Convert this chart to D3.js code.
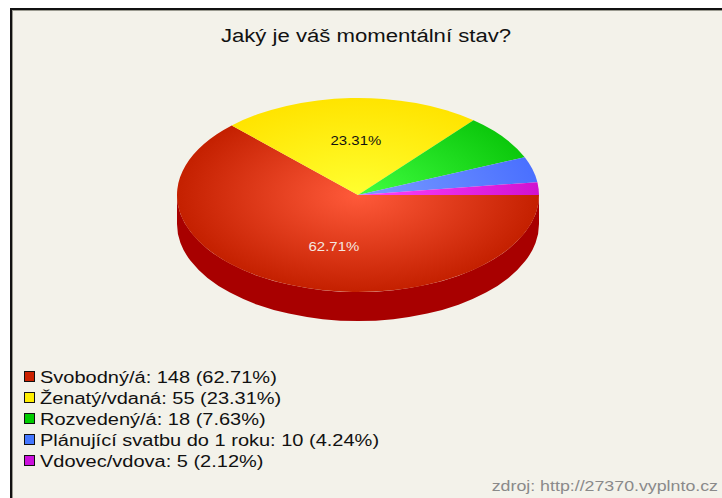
<!DOCTYPE html>
<html>
<head>
<meta charset="utf-8">
<script src="https://cdn.jsdelivr.net/npm/d3@7"></script>
<style>
  html, body { margin: 0; padding: 0; background: #ffffff; }
  svg { display: block; }
</style>
</head>
<body>
<div id="chart"></div>
<script>
// Poll data
const TITLE = 'Jaký je váš momentální stav?';
const CATEGORIES = ['Svobodný/á', 'Ženatý/vdaná', 'Rozvedený/á', 'Plánující svatbu do 1 roku', 'Vdovec/vdova'];
const COUNTS = [148, 55, 18, 10, 5];
const PERCENTS = ['62.71%', '23.31%', '7.63%', '4.24%', '2.12%'];
const SHOWN_LABELS = [true, true, false, false, false];
const SOURCE = 'zdroj: http://27370.vyplnto.cz';

// colours: [highlight, edge] for the top, legend swatch
const TOP_LIGHT = ['#ff5a3a', '#ffff30', '#40ff40', '#7a9cff', '#ff44ff'];
const TOP_DARK  = ['#c42000', '#ffe400', '#0cc80c', '#4a70ff', '#d012d0'];
const SWATCH    = ['#cc2200', '#ffee00', '#00cc00', '#4477ff', '#cc11dd'];
const SIDE      = ['#a80000', '#c8b400', '#009900', '#2244cc', '#990099'];

(function () {
  'use strict';
  const W = 722, H = 498;
  const cx = 358, cy = 195, rx = 181, ry = 97, depth = 29;
  const FONT = "'Liberation Sans', Arial, sans-serif";

  const svg = d3.select('#chart').append('svg').attr('width', W).attr('height', H);

  // the source picture is stretched horizontally; text is widened to match
  function stretchedText(parent, x, y, anchor, size, fill, str, k) {
    return parent.append('g').attr('transform', `translate(${x},${y}) scale(${k},1)`)
      .append('text').attr('x', 0).attr('y', 0).attr('text-anchor', anchor)
      .style('font-family', FONT).style('font-size', size + 'px').style('fill', fill).text(str);
  }

  // frame
  svg.append('rect').attr('x', 0).attr('y', 0).attr('width', W).attr('height', H).attr('fill', '#ffffff');
  svg.append('rect').attr('x', 11).attr('y', 9).attr('width', W + 20).attr('height', H + 20)
    .attr('fill', '#f3f2ea').attr('stroke', '#111').attr('stroke-width', 2);
  svg.append('rect').attr('x', 12.5).attr('y', 10.5).attr('width', W + 20).attr('height', H + 20)
    .attr('fill', 'none').attr('stroke', '#9a9a90').attr('stroke-width', 1);

  // title
  stretchedText(svg, 366, 42, 'middle', 18, '#111', TITLE, 1.23);

  const pie = d3.pie().sort(null).startAngle(Math.PI / 2).endAngle(Math.PI / 2 + 2 * Math.PI);
  const arcs = pie(COUNTS);

  const defs = svg.append('defs');
  arcs.forEach((a, i) => {
    const gr = defs.append('radialGradient').attr('id', 'top' + i)
      .attr('gradientUnits', 'userSpaceOnUse').attr('cx', 0).attr('cy', 0).attr('r', rx)
      .attr('fx', 0).attr('fy', 0);
    gr.append('stop').attr('offset', '0%').attr('stop-color', TOP_LIGHT[i]);
    gr.append('stop').attr('offset', '100%').attr('stop-color', TOP_DARK[i]);
  });

  // side wall (front half only: d3 angles π/2 .. 3π/2)
  const pt = (t, dy) => [cx + rx * Math.sin(t), cy - ry * Math.cos(t) + dy];
  arcs.forEach((a, i) => {
    const s = Math.max(a.startAngle, Math.PI / 2), e = Math.min(a.endAngle, 3 * Math.PI / 2);
    if (e <= s) return;
    const p0 = pt(s, 0), p1 = pt(e, 0), p2 = pt(e, depth), p3 = pt(s, depth);
    const large = (e - s) > Math.PI ? 1 : 0;
    const d = `M${p0}A${rx},${ry} 0 ${large} 1 ${p1}L${p2}A${rx},${ry} 0 ${large} 0 ${p3}Z`;
    svg.append('path').attr('d', d).attr('fill', SIDE[i]);
  });

  // top
  const top = svg.append('g').attr('transform', `translate(${cx},${cy}) scale(1,${ry / rx})`);
  const arc = d3.arc().innerRadius(0).outerRadius(rx);
  top.selectAll('path').data(arcs).enter().append('path')
    .attr('d', arc).attr('fill', (d, i) => `url(#top${i})`);

  // percentage labels
  const lab = d3.arc().innerRadius(rx * 0.57).outerRadius(rx * 0.57);
  arcs.forEach((a, i) => {
    if (!SHOWN_LABELS[i]) return;
    const c = lab.centroid(a);
    const x = cx + c[0] + (i === 0 ? 16 : 2);
    const y = cy + c[1] * ry / rx;
    stretchedText(svg, x, y + 5, 'middle', 13, i === 0 ? '#f4e8e0' : '#111', PERCENTS[i], 1.15);
  });

  // legend
  const lg = svg.append('g').attr('transform', 'translate(24,377)');
  const rowY = d3.scaleLinear().domain([0, 1]).range([0, 21]);
  CATEGORIES.forEach((c, i) => {
    lg.append('rect').attr('x', 0.5).attr('y', rowY(i) - 5.5).attr('width', 10).attr('height', 10)
      .attr('fill', SWATCH[i]).attr('stroke', '#111').attr('stroke-width', 1);
    stretchedText(lg, 16, rowY(i) + 6, 'start', 16, '#111', `${c}: ${COUNTS[i]} (${PERCENTS[i]})`, 1.25);
  });

  // source
  stretchedText(svg, 718, 491, 'end', 14, '#8a8a8a', SOURCE, 1.27);
})();
</script>
</body>
</html>
